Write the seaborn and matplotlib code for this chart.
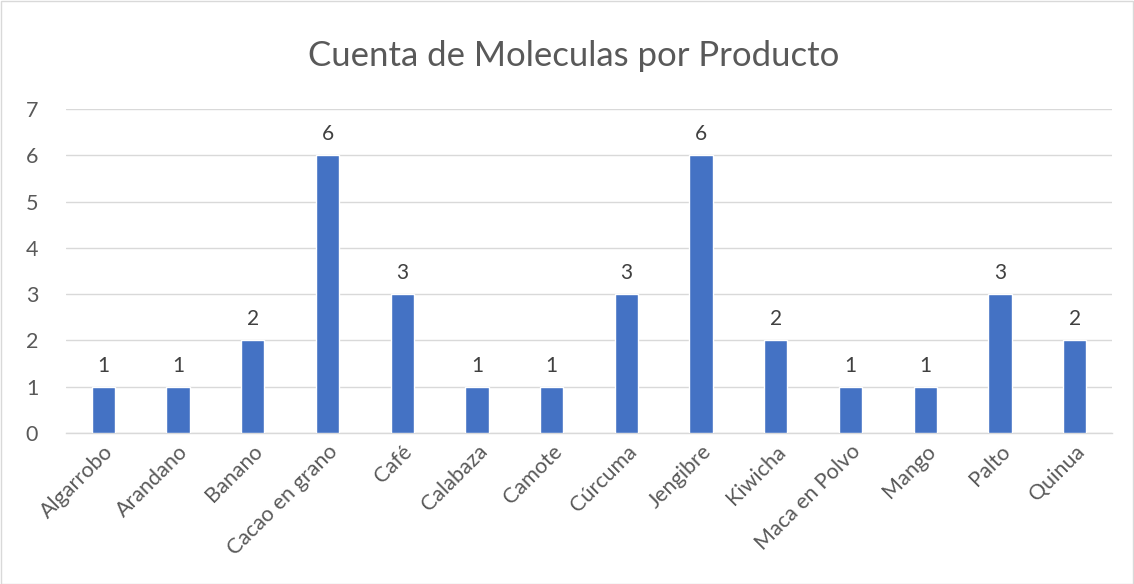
import matplotlib
matplotlib.use("Agg")
import matplotlib.pyplot as plt
import seaborn as sns
import pandas as pd
from matplotlib.patches import Rectangle

productos = ["Algarrobo", "Arandano", "Banano", "Cacao en grano", "Café", "Calabaza",
             "Camote", "Cúrcuma", "Jengibre", "Kiwicha", "Maca en Polvo", "Mango",
             "Palto", "Quinua"]
cuentas = [1, 1, 2, 6, 3, 1, 1, 3, 6, 2, 1, 1, 3, 2]
yticks = [0, 1, 2, 3, 4, 5, 6, 7]

df = pd.DataFrame({"Producto": productos, "Cuenta": cuentas})

sns.set_theme(style="white")
plt.rcParams['font.family'] = ['Lato', 'DejaVu Sans']

W, H = 1134, 584
fig = plt.figure(figsize=(W / 100, H / 100), dpi=100)
ax = fig.add_axes([66 / W, 1 - 433 / H, (1112 - 66) / W, (433 - 109) / H])

sns.barplot(data=df, x="Producto", y="Cuenta", color="#4472C4", width=0.31,
            saturation=1, ax=ax, zorder=3)

ax.set_ylim(0, 7)
ax.set_xlim(-0.5, len(productos) - 0.5)
ax.set_yticks(yticks)
ax.yaxis.grid(True, color="#D9D9D9", linewidth=1, zorder=0)
ax.xaxis.grid(False)
for s in ["top", "right", "left"]:
    ax.spines[s].set_visible(False)
ax.spines["bottom"].set_color("#D9D9D9")
ax.spines["bottom"].set_linewidth(1)
ax.set_xlabel("")
ax.set_ylabel("")
ax.tick_params(axis="both", length=0, colors="#595959", labelsize=15.5)
ax.tick_params(axis="y", pad=20)
ax.tick_params(axis="x", pad=6)
plt.setp(ax.get_xticklabels(), rotation=45, ha="right", rotation_mode="anchor")

for cont in ax.containers:
    ax.bar_label(cont, labels=[str(v) for v in cuentas], padding=8,
                 color="#404040", fontsize=15)

fig.text(574 / W, 1 - 56 / H, "Cuenta de Moleculas por Producto",
         ha="center", va="center", fontsize=25, color="#595959")

fig.patches.append(Rectangle((0.5 / W, 0.5 / H), 1 - 1.5 / W, 1 - 1.5 / H,
                             transform=fig.transFigure, fill=False,
                             edgecolor="#D9D9D9", linewidth=1))

fig.savefig("out.png", dpi=100, facecolor="white")
